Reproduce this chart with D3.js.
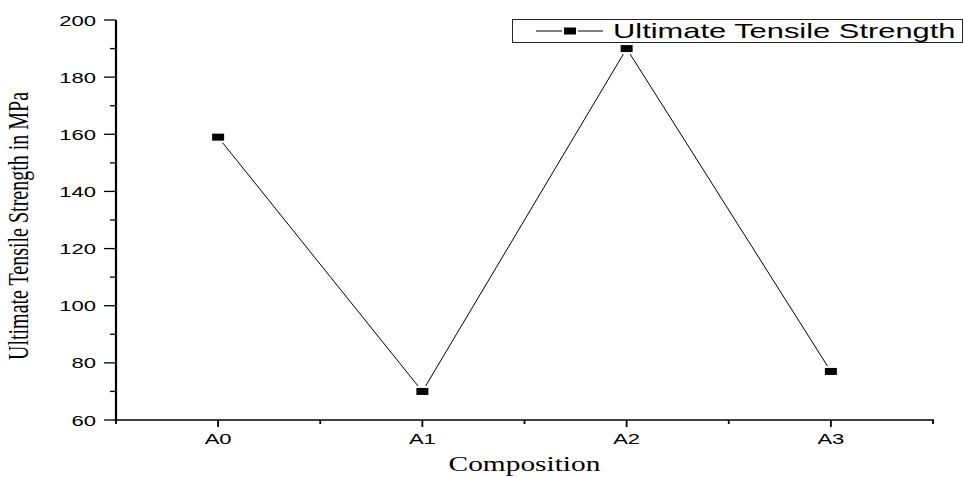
<!DOCTYPE html>
<html>
<head>
<meta charset="utf-8">
<script src="https://cdn.jsdelivr.net/npm/d3@7"></script>
<style>
  html, body { margin: 0; padding: 0; background: #fff; }
  svg { display: block; }
</style>
</head>
<body>
<svg id="chart" width="963" height="477"></svg>
<script>
const categories = ["A0", "A1", "A2", "A3"];
const utsValues = [159, 70, 190, 77];
const yTickValues = [60, 80, 100, 120, 140, 160, 180, 200];
const yMinorTickValues = [70, 90, 110, 130, 150, 170, 190];
const seriesName = "Ultimate Tensile Strength";
const xTitle = "Composition";
const yTitle = "Ultimate Tensile Strength in MPa";

const SX = 1.47; // horizontal stretch of the original picture
const svg = d3.select("#chart");
const plotLeft = 116, plotRight = 933, plotTop = 20, plotBottom = 420;

const x = d3.scaleLinear().domain([-0.5, categories.length - 0.5]).range([plotLeft, plotRight]);
const y = d3.scaleLinear().domain([60, 200]).range([plotBottom, plotTop]);

// Y axis
const yAxis = svg.append("g").attr("transform", `translate(${plotLeft},0)`);
yAxis.append("line").attr("x1", 0).attr("x2", 0).attr("y1", y(200)).attr("y2", y(60) + 1)
  .attr("stroke", "#000").attr("stroke-width", 2.2);
yAxis.selectAll(".ymaj").data(yTickValues).join("line")
  .attr("x1", -12).attr("x2", 0).attr("y1", d => y(d)).attr("y2", d => y(d))
  .attr("stroke", "#000").attr("stroke-width", 1.3);
yAxis.selectAll(".ymin").data(yMinorTickValues).join("line")
  .attr("x1", -6).attr("x2", 0).attr("y1", d => y(d)).attr("y2", d => y(d))
  .attr("stroke", "#000").attr("stroke-width", 1.3);
yAxis.selectAll(".ylab").data(yTickValues).join("text")
  .attr("transform", d => `translate(-20,${y(d) + 5.5}) scale(${SX},1)`)
  .attr("text-anchor", "end")
  .attr("font-family", "Liberation Sans, Arial, sans-serif")
  .attr("font-size", 15)
  .attr("fill", "#000")
  .text(d => d);

// X axis
const xAxis = svg.append("g").attr("transform", `translate(0,${plotBottom})`);
xAxis.append("line").attr("x1", plotLeft - 1).attr("x2", plotRight + 1).attr("y1", 0).attr("y2", 0)
  .attr("stroke", "#000").attr("stroke-width", 1.6);
const majors = categories.map((c, i) => i);
const minors = d3.range(categories.length + 1).map(i => i - 0.5);
xAxis.selectAll(".xmaj").data(majors).join("line")
  .attr("x1", d => x(d)).attr("x2", d => x(d)).attr("y1", 0).attr("y2", 7)
  .attr("stroke", "#000").attr("stroke-width", 1.8);
xAxis.selectAll(".xmin").data(minors).join("line")
  .attr("x1", d => x(d)).attr("x2", d => x(d)).attr("y1", 0).attr("y2", 4)
  .attr("stroke", "#000").attr("stroke-width", 1.8);
xAxis.selectAll(".xlab").data(categories).join("text")
  .attr("transform", (d, i) => `translate(${x(i)},24) scale(${SX},1)`)
  .attr("text-anchor", "middle")
  .attr("font-family", "Liberation Sans, Arial, sans-serif")
  .attr("font-size", 15)
  .attr("fill", "#000")
  .text(d => d);

// Titles
svg.append("text")
  .attr("transform", `translate(${(plotLeft + plotRight) / 2},471) scale(${SX},1)`)
  .attr("text-anchor", "middle")
  .attr("font-family", "Liberation Serif, Times New Roman, serif")
  .attr("font-size", 20)
  .attr("fill", "#000")
  .text(xTitle);
svg.append("text")
  .attr("transform", `translate(28,226) scale(${SX},1) rotate(-90)`)
  .attr("text-anchor", "middle")
  .attr("font-family", "Liberation Serif, Times New Roman, serif")
  .attr("font-size", 20)
  .attr("fill", "#000")
  .text(yTitle);

// Line
const line = d3.line().x((d, i) => x(i)).y(d => y(d));
svg.append("path").datum(utsValues)
  .attr("d", line).attr("fill", "none").attr("stroke", "#000").attr("stroke-width", 1);

// Markers
const mw = 14, mh = 9;
svg.selectAll(".mk").data(utsValues).join("rect")
  .attr("x", (d, i) => x(i) - mw / 2).attr("y", d => y(d) - mh / 2)
  .attr("width", mw).attr("height", mh)
  .attr("fill", "#000").attr("stroke", "#fff").attr("stroke-width", 2);

// Legend
const lg = svg.append("g");
lg.append("rect").attr("x", 512.5).attr("y", 19.5).attr("width", 450).attr("height", 23)
  .attr("fill", "#fff").attr("stroke", "#222").attr("stroke-width", 1);
lg.append("line").attr("x1", 536).attr("x2", 603).attr("y1", 31).attr("y2", 31)
  .attr("stroke", "#000").attr("stroke-width", 1);
lg.append("rect").attr("x", 570 - mw / 2).attr("y", 31 - mh / 2).attr("width", mw).attr("height", mh)
  .attr("fill", "#000").attr("stroke", "#fff").attr("stroke-width", 2);
lg.append("text")
  .attr("transform", `translate(613,38) scale(${SX},1)`)
  .attr("font-family", "Liberation Sans, Arial, sans-serif")
  .attr("font-size", 21)
  .attr("fill", "#000")
  .text(seriesName);
</script>
</body>
</html>
